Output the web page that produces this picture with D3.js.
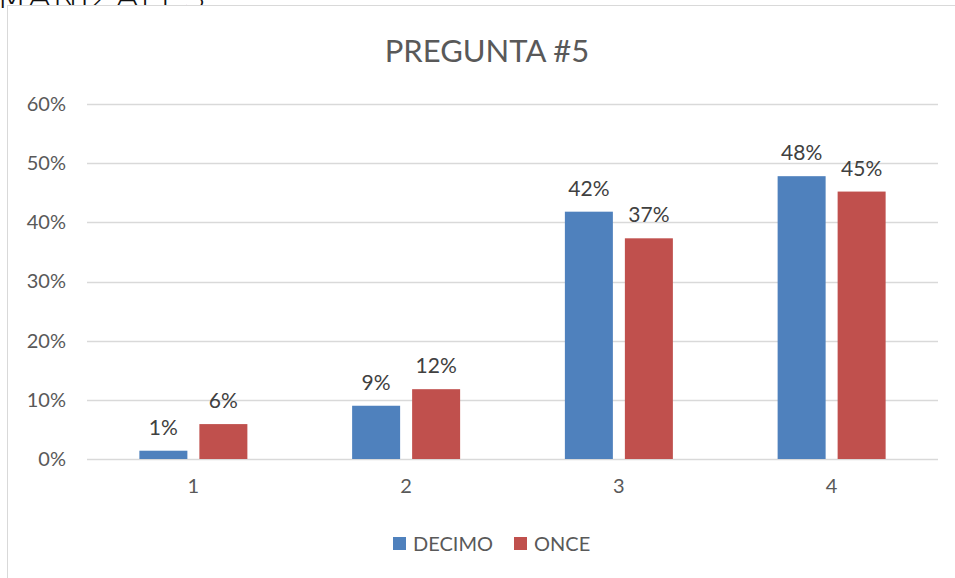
<!DOCTYPE html>
<html>
  <head>
    <meta charset="utf-8" />
    <title>PREGUNTA #5</title>
    <script src="https://cdn.jsdelivr.net/npm/d3@7"></script>
    <style>
      body { margin: 0; background: #fff; }
      svg { display: block; }
    </style>
  </head>
  <body>
    <script>
// values, percent
var categories = ["1", "2", "3", "4"];
var seriesNames = ["DECIMO", "ONCE"];
var decimo = [1.4, 9.0, 41.8, 47.8];
var once = [5.9, 11.8, 37.3, 45.2];
var yTicks = [0, 10, 20, 30, 40, 50, 60];
var colors = ["#4f81bd", "#c0504d"];

var w = 955, h = 578,
    font = "Lato, 'Open Sans', sans-serif";

var svg = d3.select("body").append("svg")
  .attr("width", w)
  .attr("height", h);

// cut-off heading above the chart frame
svg.append("text")
  .attr("x", -4)
  .attr("y", 8)
  .attr("fill", "#111")
  .attr("font-family", "'DejaVu Sans', sans-serif")
  .attr("font-weight", 200)
  .attr("font-size", 28)
  .attr("textLength", 210)
  .attr("lengthAdjust", "spacingAndGlyphs")
  .text("MANIZALES");

// chart frame
svg.append("rect")
  .attr("x", 7.5).attr("y", 5.5)
  .attr("width", w + 10).attr("height", h + 10)
  .attr("fill", "#fff")
  .attr("stroke", "#d9d9d9");

var x = d3.scaleBand()
  .domain(categories)
  .range([87, 938]);

var y = d3.scaleLinear()
  .domain([0, 60])
  .range([459, 104]);

var x1 = d3.scaleBand()
  .domain(seriesNames)
  .range([0, 108])
  .paddingInner(0.2);

// gridlines
svg.append("g").selectAll("line")
  .data(yTicks)
  .enter().append("line")
    .attr("x1", 87).attr("x2", 938)
    .attr("y1", function(d) { return Math.round(y(d)) + 0.5; })
    .attr("y2", function(d) { return Math.round(y(d)) + 0.5; })
    .attr("stroke", "#d9d9d9")
    .attr("stroke-width", 1.3);

// y labels
var yAxis = svg.append("g")
  .attr("transform", "translate(66,0)")
  .call(d3.axisLeft(y).tickValues(yTicks).tickSize(0).tickPadding(0)
    .tickFormat(function(d) { return d + "%"; }));
yAxis.select(".domain").remove();
yAxis.selectAll("text")
  .attr("fill", "#595959")
  .attr("font-family", font)
  .attr("font-size", 20);

// x labels
var xAxis = svg.append("g")
  .attr("transform", "translate(0,459)")
  .call(d3.axisBottom(x).tickSize(0).tickPadding(20));
xAxis.select(".domain").remove();
xAxis.selectAll("text")
  .attr("fill", "#595959")
  .attr("font-family", font)
  .attr("font-size", 20);

var rows = categories.map(function(c, i) {
  return { cat: c, vals: [decimo[i], once[i]] };
});

var groups = svg.selectAll(".grp")
  .data(rows)
  .enter().append("g")
    .attr("class", "grp")
    .attr("transform", function(d) {
      return "translate(" + (x(d.cat) + x.bandwidth() / 2 - 54) + ",0)";
    });

groups.selectAll("rect")
  .data(function(d) { return d.vals; })
  .enter().append("rect")
    .attr("x", function(d, i) { return x1(seriesNames[i]); })
    .attr("y", function(d) { return y(d); })
    .attr("width", x1.bandwidth())
    .attr("height", function(d) { return y(0) - y(d); })
    .attr("fill", function(d, i) { return colors[i]; });

groups.selectAll("text")
  .data(function(d) { return d.vals; })
  .enter().append("text")
    .attr("x", function(d, i) { return x1(seriesNames[i]) + x1.bandwidth() / 2; })
    .attr("y", function(d) { return y(d) - 16; })
    .attr("text-anchor", "middle")
    .attr("fill", "#404040")
    .attr("font-family", font)
    .attr("font-size", 21)
    .text(function(d) { return Math.round(d) + "%"; });

// title
svg.append("text")
  .attr("x", 487)
  .attr("y", 62)
  .attr("text-anchor", "middle")
  .attr("fill", "#595959")
  .attr("font-family", font)
  .attr("font-size", 31)
  .text("PREGUNTA #5");

// legend
var legX = [393, 514];
var leg = svg.selectAll(".leg")
  .data(seriesNames)
  .enter().append("g")
    .attr("class", "leg")
    .attr("transform", function(d, i) { return "translate(" + legX[i] + ",537)"; });
leg.append("rect")
  .attr("width", 13).attr("height", 13)
  .attr("fill", function(d, i) { return colors[i]; });
leg.append("text")
  .attr("x", 20).attr("y", 14)
  .attr("fill", "#595959")
  .attr("font-family", font)
  .attr("font-size", 20)
  .text(function(d) { return d; });
    </script>
  </body>
</html>
